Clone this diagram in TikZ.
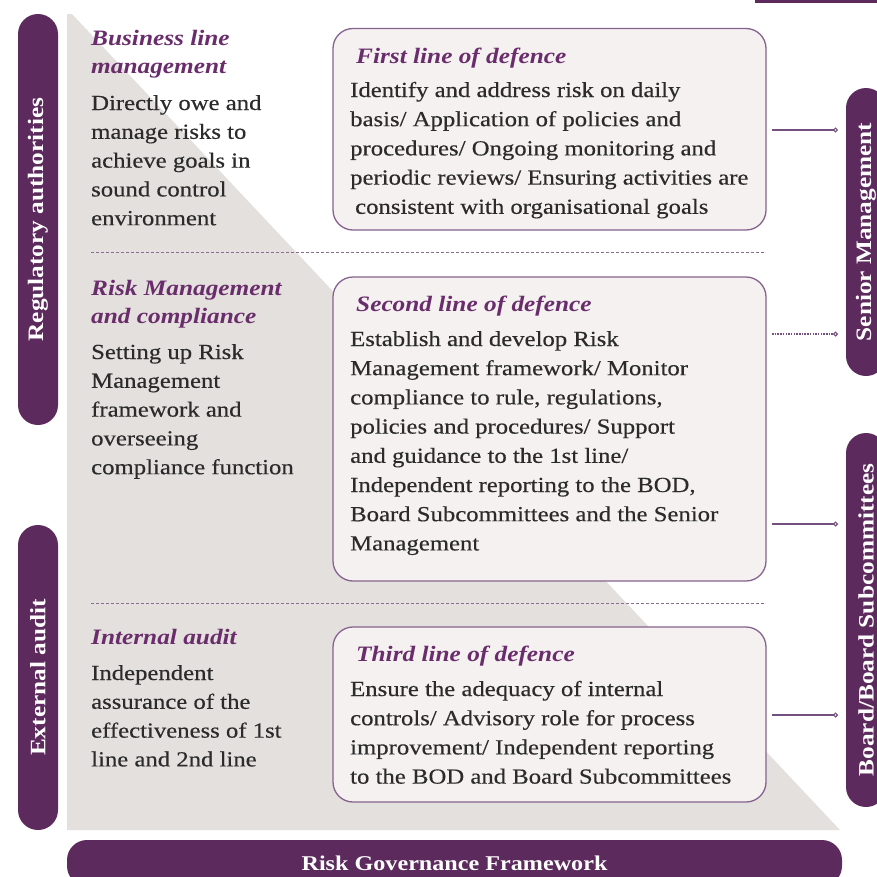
\documentclass[tikz,border=0pt]{standalone}
\usepackage{fontspec}
\setmainfont{Liberation Serif}[FakeStretch=1.15, UprightFeatures={FakeBold=0.35}]
\usetikzlibrary{arrows.meta}
\definecolor{plum}{HTML}{5C2A5D}
\definecolor{headc}{HTML}{6A2D6C}
\definecolor{bodyc}{HTML}{2B2B2B}
\definecolor{greyc}{HTML}{E4E0DD}
\definecolor{boxfill}{HTML}{F4F1F0}
\definecolor{boxline}{HTML}{86638F}
\definecolor{linkc}{HTML}{74507E}
\definecolor{sepc}{HTML}{8A6B93}
\newcommand{\bodyfnt}{\fontsize{21.5}{29.2}\selectfont}
\newcommand{\leftfnt}{\fontsize{21.5}{28.8}\selectfont}
\newcommand{\hdrfnt}{\fontsize{22}{28}\selectfont\bfseries\itshape}
\newcommand{\pillfnt}{\fontsize{22}{26}\selectfont\bfseries}
\newcommand{\blk}[2]{\parbox[t]{#1}{\raggedright #2}}
\tikzset{
  pill/.style={fill=plum, text=white, rounded corners=20pt, minimum height=40pt, inner sep=0pt, font=\pillfnt, rotate=90},
  banner/.style={fill=plum, text=white, rounded corners=20pt, inner sep=0pt, font=\fontsize{21}{26}\selectfont\bfseries},
  dbox/.style={draw=boxline, fill=boxfill, line width=1.3pt, rounded corners=20pt, inner sep=0pt},
  txt/.style={anchor=base west, inner sep=0pt, text=bodyc},
  hdr/.style={anchor=base west, inner sep=0pt, text=headc, font=\hdrfnt},
  sepline/.style={draw=sepc, dash pattern=on 3pt off 2pt, line width=0.9pt},
  link/.style={draw=linkc, line width=1.1pt, -{Circle[open, length=5pt, width=5pt]}},
  dotlink/.style={link, dash pattern=on 1.5pt off 1.2pt},
}
\begin{document}
\begin{tikzpicture}[x=1pt, y=-1pt]
\useasboundingbox (0,0) rectangle (877,876);
\clip (0,0) rectangle (877,876);
% grey triangle background
\fill[greyc] (67,14) -- (72,14) -- (840,830) -- (67,830) -- cycle;
% top right fragment
\fill[plum] (755,-5) rectangle (877,2.5);

% left pills
\node[pill, minimum width=411pt] (reg) at (38,219.5) {Regulatory authorities};
\node[pill, minimum width=305pt] (ext) at (38,677.5) {External audit};
% right pills
\node[pill, minimum width=288pt] (sen) at (866,232) {Senior Management};
\node[pill, minimum width=374pt] (brd) at (866,620) {Board/Board Subcommittees};
% bottom banner
\node[banner, minimum width=775pt, minimum height=46pt] (rgf) at (454.5,863) {Risk Governance Framework};

% separators
\coordinate (s1a) at (91,252); \coordinate (s1b) at (765,252);
\coordinate (s2a) at (91,603); \coordinate (s2b) at (765,603);
\draw[sepline] (s1a) -- (s1b);
\draw[sepline] (s2a) -- (s2b);

% boxes
\node[dbox, minimum width=433pt, minimum height=201.5pt] (b1) at (549.5,129.25) {};
\node[dbox, minimum width=433pt, minimum height=304pt] (b2) at (549.5,429) {};
\node[dbox, minimum width=433pt, minimum height=175pt] (b3) at (549.5,714.5) {};

% box texts
\node[hdr] (h1) at (356,63) {First line of defence};
\node[txt] (t1) at (350,97) {\blk{420pt}{\bodyfnt Identify and address risk on daily\\ basis/ Application of policies and\\ procedures/ Ongoing monitoring and\\ periodic reviews/ Ensuring activities are\\ \hspace*{5pt}consistent with organisational goals}};
\node[hdr] (h2) at (356,311) {Second line of defence};
\node[txt] (t2) at (350,346) {\blk{420pt}{\bodyfnt Establish and develop Risk\\ Management framework/ Monitor\\ compliance to rule, regulations,\\ policies and procedures/ Support\\ and guidance to the 1st line/\\ Independent reporting to the BOD,\\ Board Subcommittees and the Senior\\ Management}};
\node[hdr] (h3) at (356,661) {Third line of defence};
\node[txt] (t3) at (350,696) {\blk{420pt}{\bodyfnt Ensure the adequacy of internal\\ controls/ Advisory role for process\\ improvement/ Independent reporting\\ to the BOD and Board Subcommittees}};

% left column texts
\node[hdr] (lh1) at (91,45) {\blk{240pt}{\hdrfnt Business line\\ management}};
\node[txt] (lt1) at (91,110) {\blk{240pt}{\leftfnt Directly owe and\\ manage risks to\\ achieve goals in\\ sound control\\ environment}};
\node[hdr] (lh2) at (91,295) {\blk{240pt}{\hdrfnt Risk Management\\ and compliance}};
\node[txt] (lt2) at (91,359) {\blk{240pt}{\leftfnt Setting up Risk\\ Management\\ framework and\\ overseeing\\ compliance function}};
\node[hdr] (lh3) at (91,644) {Internal audit};
\node[txt] (lt3) at (91,680) {\blk{240pt}{\leftfnt Independent\\ assurance of the\\ effectiveness of 1st\\ line and 2nd line}};

% connectors
\coordinate (c1a) at (772,130); \coordinate (c1b) at (838,130);
\coordinate (c2a) at (772,334); \coordinate (c2b) at (838,334);
\coordinate (c3a) at (772,524); \coordinate (c3b) at (838,524);
\coordinate (c4a) at (772,715); \coordinate (c4b) at (838,715);
\draw[link] (c1a) -- (c1b);
\draw[dotlink] (c2a) -- (c2b);
\draw[link] (c3a) -- (c3b);
\draw[link] (c4a) -- (c4b);
\end{tikzpicture}
\end{document}
